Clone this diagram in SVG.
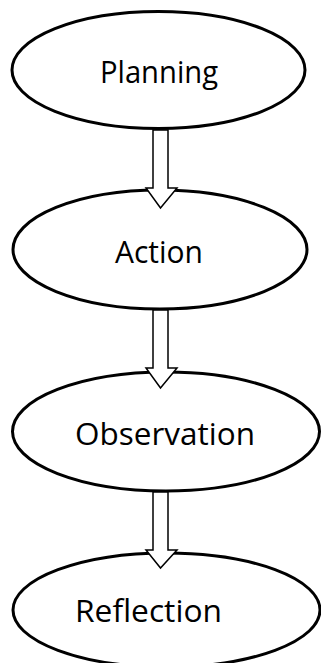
<svg xmlns="http://www.w3.org/2000/svg" width="321" height="663" viewBox="0 0 321 663">
<style>
.node ellipse{fill:#fff;stroke:#000;stroke-width:3}
.node text{font-family:"Open Sans","Noto Sans","Liberation Sans",sans-serif;font-size:31px;fill:#000}
.arrow{fill:#fff;stroke:#000;stroke-width:1.5;stroke-linejoin:miter}
</style>
<rect width="321" height="663" fill="#fff"/>
<g id="planning" class="node">
<ellipse cx="158.5" cy="70" rx="146.5" ry="58.5"/>
<text x="100" y="83" textLength="118" lengthAdjust="spacingAndGlyphs">Planning</text>
</g>
<g id="action" class="node">
<ellipse cx="160" cy="249.5" rx="147" ry="59.5"/>
<text x="115" y="263" textLength="88" lengthAdjust="spacingAndGlyphs">Action</text>
</g>
<g id="observation" class="node">
<ellipse cx="166" cy="431.5" rx="153.5" ry="59.5"/>
<text x="75" y="445" textLength="180" lengthAdjust="spacingAndGlyphs">Observation</text>
</g>
<g id="reflection" class="node">
<ellipse cx="166.5" cy="610" rx="153.5" ry="57"/>
<text x="75" y="622" textLength="147" lengthAdjust="spacingAndGlyphs">Reflection</text>
</g>
<g id="connectors">
<path class="arrow" d="M153,130 V188 H146 L160.5,208 L177,188 H168 V130 Z"/>
<path class="arrow" d="M153,310 V368 H146 L160.5,388 L177,368 H168 V310 Z"/>
<path class="arrow" d="M153,492 V550 H146 L160.5,568 L177,550 H168 V492 Z"/>
</g>
</svg>
